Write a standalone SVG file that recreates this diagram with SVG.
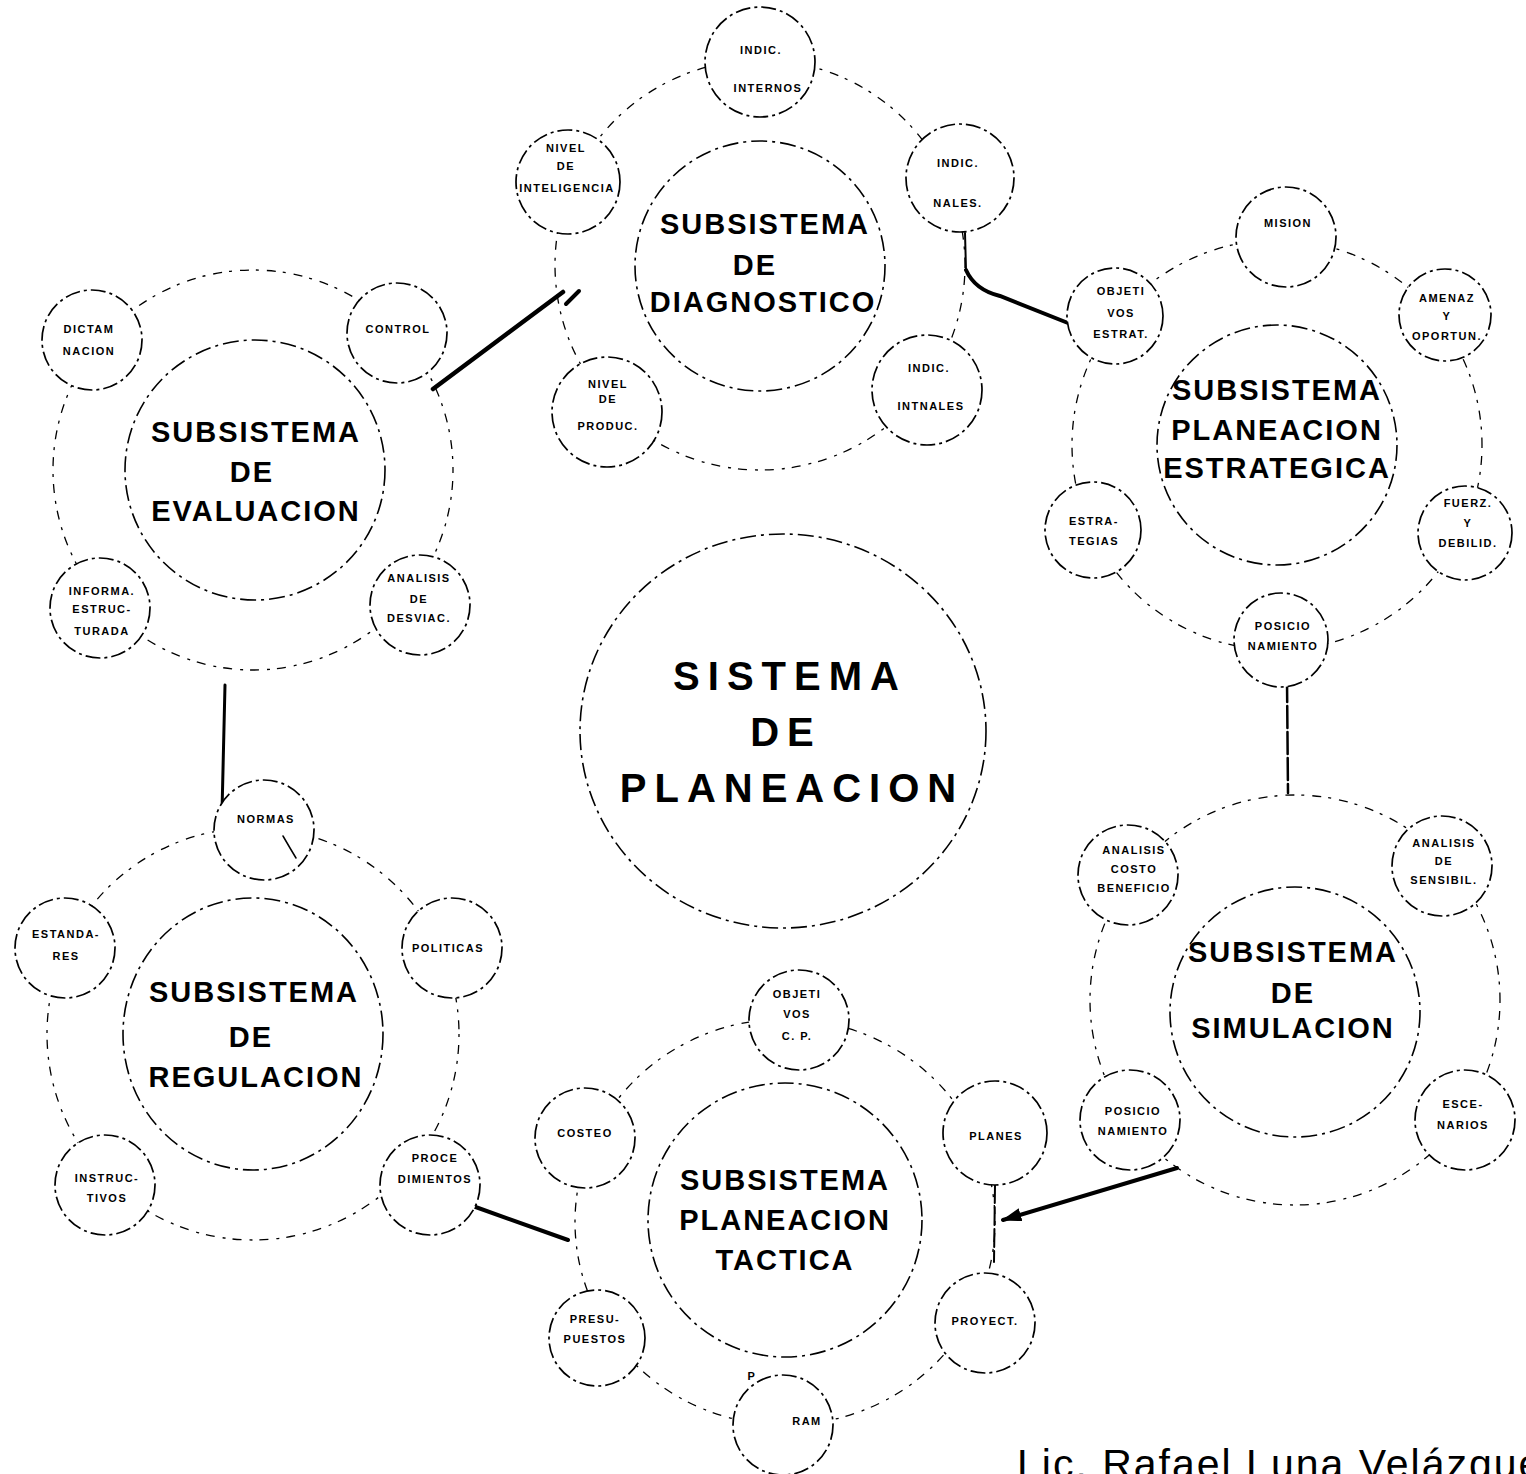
<svg xmlns="http://www.w3.org/2000/svg" width="1526" height="1474" viewBox="0 0 1526 1474">
  <style>
    .orbit { fill: none; stroke: #000; stroke-width: 1.3; stroke-dasharray: 3 8 9 7; }
    .big { fill: none; stroke: #000; stroke-width: 1.6; stroke-dasharray: 16 5 3 5; }
    .small { fill: #fff; stroke: #000; stroke-width: 1.7; stroke-dasharray: 15 4 3 4; }
    .title { font-family: "Liberation Sans", Arial, sans-serif; font-weight: bold; font-size: 29px; letter-spacing: 2px; text-anchor: middle; fill: #000; }
    .main { font-family: "Liberation Sans", Arial, sans-serif; font-weight: bold; font-size: 40px; letter-spacing: 8px; text-anchor: middle; fill: #000; }
    .lbl { font-family: "Liberation Sans", Arial, sans-serif; font-weight: bold; font-size: 11px; letter-spacing: 1.5px; text-anchor: middle; fill: #000; }
    .conn { fill: none; stroke: #000; stroke-linecap: round; }
    .sig { font-family: "Liberation Sans", Arial, sans-serif; font-size: 41px; letter-spacing: 2px; fill: #000; }
  </style>
  <defs>
    <marker id="wedge" viewBox="0 0 12 8" refX="11" refY="4" markerWidth="5" markerHeight="3.5" orient="auto">
      <path d="M0,0 L12,4 L0,8 Z" fill="#000"/>
    </marker>
  </defs>
  <rect width="1526" height="1474" fill="#fff"/>

  <!-- outer rings on which the satellite circles sit -->
  <g id="rings">
    <circle class="orbit" cx="760" cy="265" r="205"/>
    <circle class="orbit" cx="253" cy="470" r="200"/>
    <circle class="orbit" cx="1277" cy="445" r="205"/>
    <circle class="orbit" cx="1295" cy="1000" r="205"/>
    <circle class="orbit" cx="253" cy="1034" r="206"/>
    <ellipse class="orbit" cx="785" cy="1222" rx="210" ry="203"/>
  </g>

  <!-- links between the subsystems -->
  <g id="connectors">
    <line class="conn" x1="433" y1="389" x2="563" y2="292" stroke-width="4.5"/>
    <line class="conn" x1="566" y1="304" x2="579" y2="291" stroke-width="4"/>
    <line class="conn" x1="965" y1="233" x2="966" y2="270" stroke-width="2"/>
    <path class="conn" d="M966,270 Q975,290 1000,296 L1068,323" stroke-width="4"/>
    <line class="conn" x1="1287" y1="680" x2="1288" y2="793" stroke-width="2.5" stroke-dasharray="22 4"/>
    <line class="conn" x1="225" y1="685" x2="222" y2="812" stroke-width="3"/>
    <line class="conn" x1="470" y1="1205" x2="568" y2="1240" stroke-width="4"/>
    <line class="conn" x1="1177" y1="1168" x2="1003" y2="1220" stroke-width="4" marker-end="url(#wedge)"/>
    <line class="conn" x1="995" y1="1185" x2="994" y2="1262" stroke-width="2" stroke-dasharray="18 4"/>
  </g>

  <!-- central system -->
  <g id="sistema-planeacion">
    <ellipse class="big" cx="783" cy="731" rx="203" ry="197"/>
    <text class="main" x="790" y="690">SISTEMA</text>
    <text class="main" x="786" y="746">DE</text>
    <text class="main" x="792" y="802">PLANEACION</text>
  </g>

  <!-- diagnosis subsystem -->
  <g id="subsistema-diagnostico">
    <circle class="big" cx="760" cy="266" r="125"/>
    <text class="title" x="765" y="234">SUBSISTEMA</text>
    <text class="title" x="755" y="275">DE</text>
    <text class="title" x="763" y="312">DIAGNOSTICO</text>
  </g>
  <g id="indic-internos">
    <circle class="small" cx="760" cy="62" r="55"/>
    <text class="lbl" x="761" y="54">INDIC.</text>
    <text class="lbl" x="768" y="92">INTERNOS</text>
  </g>
  <g id="nivel-inteligencia">
    <circle class="small" cx="568" cy="182" r="52"/>
    <text class="lbl" x="566" y="152">NIVEL</text>
    <text class="lbl" x="566" y="170">DE</text>
    <text class="lbl" x="567" y="192">INTELIGENCIA</text>
  </g>
  <g id="indic-nales">
    <circle class="small" cx="960" cy="178" r="54"/>
    <text class="lbl" x="958" y="167">INDIC.</text>
    <text class="lbl" x="958" y="207">NALES.</text>
  </g>
  <g id="indic-intnales">
    <circle class="small" cx="927" cy="390" r="55"/>
    <text class="lbl" x="929" y="372">INDIC.</text>
    <text class="lbl" x="931" y="410">INTNALES</text>
  </g>
  <g id="nivel-produc">
    <circle class="small" cx="607" cy="412" r="55"/>
    <text class="lbl" x="608" y="388">NIVEL</text>
    <text class="lbl" x="608" y="403">DE</text>
    <text class="lbl" x="608" y="430">PRODUC.</text>
  </g>

  <!-- evaluation subsystem -->
  <g id="subsistema-evaluacion">
    <circle class="big" cx="255" cy="470" r="130"/>
    <text class="title" x="256" y="442">SUBSISTEMA</text>
    <text class="title" x="252" y="482">DE</text>
    <text class="title" x="256" y="521">EVALUACION</text>
  </g>
  <g id="dictaminacion">
    <circle class="small" cx="92" cy="340" r="50"/>
    <text class="lbl" x="89" y="333">DICTAM</text>
    <text class="lbl" x="89" y="355">NACION</text>
  </g>
  <g id="control">
    <circle class="small" cx="397" cy="333" r="50"/>
    <text class="lbl" x="398" y="333">CONTROL</text>
  </g>
  <g id="informa-estructurada">
    <circle class="small" cx="100" cy="608" r="50"/>
    <text class="lbl" x="102" y="595">INFORMA.</text>
    <text class="lbl" x="102" y="613">ESTRUC-</text>
    <text class="lbl" x="102" y="635">TURADA</text>
  </g>
  <g id="analisis-desviac">
    <circle class="small" cx="420" cy="605" r="50"/>
    <text class="lbl" x="419" y="582">ANALISIS</text>
    <text class="lbl" x="419" y="603">DE</text>
    <text class="lbl" x="419" y="622">DESVIAC.</text>
  </g>

  <!-- strategic planning subsystem -->
  <g id="subsistema-planeacion-estrategica">
    <circle class="big" cx="1277" cy="445" r="120"/>
    <text class="title" x="1277" y="400">SUBSISTEMA</text>
    <text class="title" x="1277" y="440">PLANEACION</text>
    <text class="title" x="1277" y="478">ESTRATEGICA</text>
  </g>
  <g id="mision">
    <circle class="small" cx="1286" cy="237" r="50"/>
    <text class="lbl" x="1288" y="227">MISION</text>
  </g>
  <g id="objetivos-estrat">
    <circle class="small" cx="1115" cy="316" r="48"/>
    <text class="lbl" x="1121" y="295">OBJETI</text>
    <text class="lbl" x="1121" y="317">VOS</text>
    <text class="lbl" x="1121" y="338">ESTRAT.</text>
  </g>
  <g id="amenaz-oportun">
    <circle class="small" cx="1445" cy="315" r="46"/>
    <text class="lbl" x="1447" y="302">AMENAZ</text>
    <text class="lbl" x="1447" y="320">Y</text>
    <text class="lbl" x="1447" y="340">OPORTUN.</text>
  </g>
  <g id="fuerz-debilid">
    <circle class="small" cx="1465" cy="533" r="47"/>
    <text class="lbl" x="1468" y="507">FUERZ.</text>
    <text class="lbl" x="1468" y="527">Y</text>
    <text class="lbl" x="1468" y="547">DEBILID.</text>
  </g>
  <g id="estrategias">
    <circle class="small" cx="1093" cy="530" r="48"/>
    <text class="lbl" x="1094" y="525">ESTRA-</text>
    <text class="lbl" x="1094" y="545">TEGIAS</text>
  </g>
  <g id="posicionamiento-estrategico">
    <circle class="small" cx="1281" cy="640" r="47"/>
    <text class="lbl" x="1283" y="630">POSICIO</text>
    <text class="lbl" x="1283" y="650">NAMIENTO</text>
  </g>

  <!-- simulation subsystem -->
  <g id="subsistema-simulacion">
    <circle class="big" cx="1295" cy="1012" r="125"/>
    <text class="title" x="1293" y="962">SUBSISTEMA</text>
    <text class="title" x="1293" y="1003">DE</text>
    <text class="title" x="1293" y="1038">SIMULACION</text>
  </g>
  <g id="analisis-costo-beneficio">
    <circle class="small" cx="1128" cy="875" r="50"/>
    <text class="lbl" x="1134" y="854">ANALISIS</text>
    <text class="lbl" x="1134" y="873">COSTO</text>
    <text class="lbl" x="1134" y="892">BENEFICIO</text>
  </g>
  <g id="analisis-sensibil">
    <circle class="small" cx="1442" cy="866" r="50"/>
    <text class="lbl" x="1444" y="847">ANALISIS</text>
    <text class="lbl" x="1444" y="865">DE</text>
    <text class="lbl" x="1444" y="884">SENSIBIL.</text>
  </g>
  <g id="posicionamiento-simulacion">
    <circle class="small" cx="1130" cy="1120" r="50"/>
    <text class="lbl" x="1133" y="1115">POSICIO</text>
    <text class="lbl" x="1133" y="1135">NAMIENTO</text>
  </g>
  <g id="escenarios">
    <circle class="small" cx="1465" cy="1120" r="50"/>
    <text class="lbl" x="1463" y="1108">ESCE-</text>
    <text class="lbl" x="1463" y="1129">NARIOS</text>
  </g>

  <!-- regulation subsystem -->
  <g id="subsistema-regulacion">
    <ellipse class="big" cx="253" cy="1034" rx="130" ry="136"/>
    <text class="title" x="254" y="1002">SUBSISTEMA</text>
    <text class="title" x="251" y="1047">DE</text>
    <text class="title" x="256" y="1087">REGULACION</text>
  </g>
  <g id="normas">
    <circle class="small" cx="264" cy="830" r="50"/>
    <text class="lbl" x="266" y="823">NORMAS</text>
    <path class="conn" d="M283,836 L290,848 L296,858" stroke-width="1.5"/>
  </g>
  <g id="estandares">
    <circle class="small" cx="65" cy="948" r="50"/>
    <text class="lbl" x="66" y="938">ESTANDA-</text>
    <text class="lbl" x="66" y="960">RES</text>
  </g>
  <g id="politicas">
    <circle class="small" cx="452" cy="948" r="50"/>
    <text class="lbl" x="448" y="952">POLITICAS</text>
  </g>
  <g id="instructivos">
    <circle class="small" cx="105" cy="1185" r="50"/>
    <text class="lbl" x="107" y="1182">INSTRUC-</text>
    <text class="lbl" x="107" y="1202">TIVOS</text>
  </g>
  <g id="procedimientos">
    <circle class="small" cx="430" cy="1185" r="50"/>
    <text class="lbl" x="435" y="1162">PROCE</text>
    <text class="lbl" x="435" y="1183">DIMIENTOS</text>
  </g>

  <!-- tactical planning subsystem -->
  <g id="subsistema-planeacion-tactica">
    <circle class="big" cx="785" cy="1220" r="137"/>
    <text class="title" x="785" y="1190">SUBSISTEMA</text>
    <text class="title" x="785" y="1230">PLANEACION</text>
    <text class="title" x="785" y="1270">TACTICA</text>
  </g>
  <g id="objetivos-cp">
    <circle class="small" cx="799" cy="1020" r="50"/>
    <text class="lbl" x="797" y="998">OBJETI</text>
    <text class="lbl" x="797" y="1018">VOS</text>
    <text class="lbl" x="797" y="1040">C. P.</text>
  </g>
  <g id="costeo">
    <circle class="small" cx="585" cy="1138" r="50"/>
    <text class="lbl" x="585" y="1137">COSTEO</text>
  </g>
  <g id="planes">
    <circle class="small" cx="995" cy="1133" r="52"/>
    <text class="lbl" x="996" y="1140">PLANES</text>
  </g>
  <g id="presupuestos">
    <circle class="small" cx="597" cy="1338" r="48"/>
    <text class="lbl" x="595" y="1323">PRESU-</text>
    <text class="lbl" x="595" y="1343">PUESTOS</text>
  </g>
  <g id="proyect">
    <circle class="small" cx="985" cy="1323" r="50"/>
    <text class="lbl" x="985" y="1325">PROYECT.</text>
  </g>
  <g id="ram">
    <circle class="small" cx="783" cy="1425" r="50"/>
    <text class="lbl" x="752" y="1380">P</text>
    <text class="lbl" x="807" y="1425">RAM</text>
  </g>

  <!-- author line, running off the lower right corner -->
  <text class="sig" x="1017" y="1478">Lic. Rafael Luna Velázquez</text>
</svg>
